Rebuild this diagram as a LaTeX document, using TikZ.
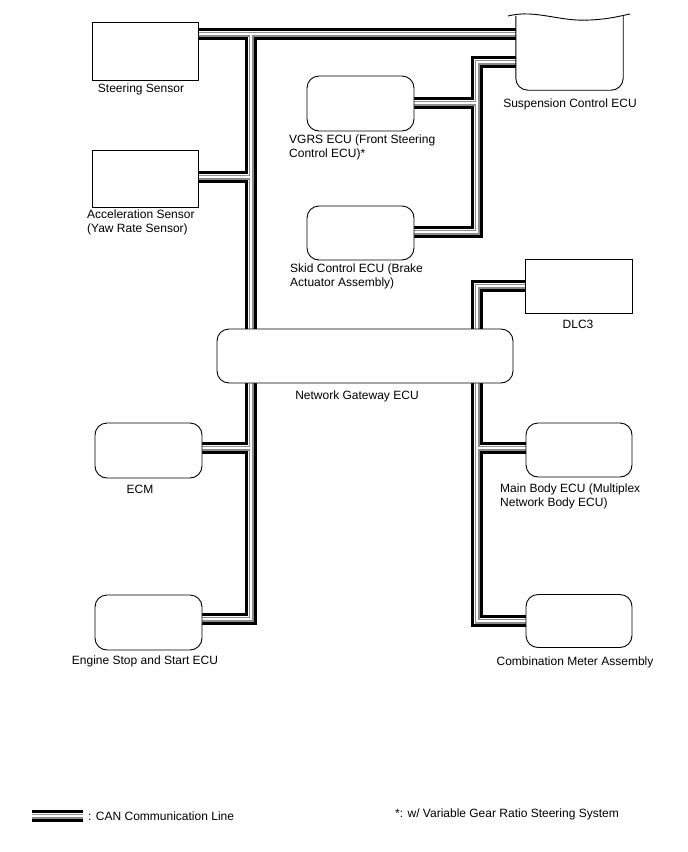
\documentclass[tikz,border=0pt]{standalone}
\usepackage{fontspec}
\setmainfont{Liberation Sans}
\pgfdeclarelayer{background}
\pgfsetlayers{background,main}
\begin{document}
\begin{tikzpicture}[x=1pt,y=-1pt,
  box/.style={draw,line width=0.9pt,fill=white,minimum width=107pt,minimum height=55pt,inner sep=0},
  rbox/.style={box,rounded corners=12pt},
  lbl/.style={font=\fontsize{12}{14}\selectfont,inner sep=0,align=left},
  canA/.style={line width=11.5pt,black},
  canB/.style={line width=6.8pt,white},
  canC/.style={line width=5pt,black!45},
  canD/.style={line width=2.6pt,white}]
\useasboundingbox (0,0) rectangle (688,852);

% boxes
\node[box,minimum width=106pt,minimum height=58pt] (ss) at (145,51) {};
\node[box,minimum width=106pt,minimum height=57pt] (as) at (145,178.5) {};
\node[rbox] (vg) at (360.5,103.5) {};
\node[rbox,minimum height=54pt] (sk) at (360.5,233) {};
\node[inner sep=0,minimum width=107pt,minimum height=74pt] (su) at (569.5,53) {};
\node[box,minimum height=54pt] (dl) at (578.5,286) {};
\node[rbox,minimum width=296pt,minimum height=54pt] (gw) at (365,356) {};
\node[rbox] (ec) at (148.5,450.5) {};
\node[rbox,minimum width=106pt,minimum height=54pt] (mb) at (579,450) {};
\node[rbox] (es) at (148.5,622.5) {};
\node[rbox,minimum width=106pt,minimum height=53pt] (cm) at (579,621) {};

% suspension control ECU outline (cut off at top)
\draw[line width=0.9pt,rounded corners=12pt] (su.north west) -- (su.south west) -- (su.south east) -- (su.north east);
\draw[line width=0.9pt] (508,16) .. controls (535,9) and (560,22) .. (590,20) .. controls (610,19) and (620,16) .. (630,14);

% junction coordinates
\coordinate (jA) at (251,34);
\coordinate (jB) at (251,177);
\coordinate (jC) at (477,62);
\coordinate (jD) at (477,103);
\coordinate (jE) at (477,232);
\coordinate (jF) at (477,286);
\coordinate (jG) at (251,448);
\coordinate (jH) at (251,619);
\coordinate (jI) at (477,448);
\coordinate (jJ) at (477,621);
\coordinate (lg1) at (32,816);
\coordinate (lg2) at (83,816);

\def\canpaths{
  (ss.east |- jA) -- (su.west |- jA)
  (jA) -- (jA |- gw.north)
  (as.east |- jB) -- (jB)
  (su.west |- jC) -- (jC) -- (jE) -- (sk.east |- jE)
  (vg.east |- jD) -- (jD)
  (dl.west |- jF) -- (jF) -- (jF |- gw.north)
  (jG |- gw.south) -- (jH) -- (es.east |- jH)
  (ec.east |- jG) -- (jG)
  (jI |- gw.south) -- (jJ) -- (cm.west |- jJ)
  (mb.west |- jI) -- (jI)
  (lg1) -- (lg2)
}
\begin{pgfonlayer}{background}
\draw[canA] \canpaths;
\draw[canB] \canpaths;
\draw[canC] \canpaths;
\draw[canD] \canpaths;
\end{pgfonlayer}

% labels
\node[lbl] (tss) at (141,89) {Steering Sensor};
\node[lbl,anchor=west] (tas) at (87,222) {Acceleration Sensor\\(Yaw Rate Sensor)};
\node[lbl,anchor=west] (tvg) at (289,147) {VGRS ECU (Front Steering\\Control ECU)*};
\node[lbl,anchor=west] (tsk) at (290,276) {Skid Control ECU (Brake\\Actuator Assembly)};
\node[lbl] (tsu) at (570,104) {Suspension Control ECU};
\node[lbl] (tdl) at (578,324) {DLC3};
\node[lbl] (tgw) at (357,396) {Network Gateway ECU};
\node[lbl] (tec) at (140,489) {ECM};
\node[lbl,anchor=west] (tmb) at (500,496) {Main Body ECU (Multiplex\\Network Body ECU)};
\node[lbl] (tes) at (145,661) {Engine Stop and Start ECU};
\node[lbl] (tcm) at (575,662) {Combination Meter Assembly};
\node[lbl,anchor=west] (tlg) at (88,816) {: CAN Communication Line};
\node[lbl] (tnote) at (507,814) {*: w/ Variable Gear Ratio Steering System};
\end{tikzpicture}
\end{document}
